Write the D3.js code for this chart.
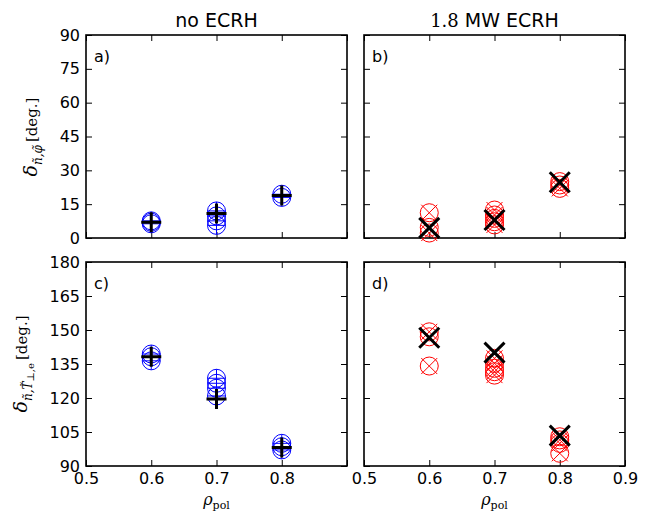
<!DOCTYPE html>
<html>
<head>
<meta charset="utf-8">
<script src="https://cdn.jsdelivr.net/npm/d3@7"></script>
<style>
  html, body { margin: 0; padding: 0; background: #fff; }
  svg { display: block; }
  .tick text { font-family: "DejaVu Sans", sans-serif; font-size: 16px; fill: #000; }
  .tick line { stroke: #000; stroke-width: 1; }
</style>
</head>
<body>
<svg id="fig" width="657" height="516"></svg>
<script>
// Radial positions and cross-phase angles (degrees)
const xTicks = [0.5, 0.6, 0.7, 0.8, 0.9];
const phiTicks = [0, 15, 30, 45, 60, 75, 90];
const tempTicks = [90, 105, 120, 135, 150, 165, 180];
const rhoMeans = [0.6, 0.7, 0.8];

// a) density / potential phase, no ECRH
const noEcrhPhiRho = [0.6, 0.6, 0.6, 0.7, 0.7, 0.7, 0.7, 0.8, 0.8];
const noEcrhPhiDeg = [6.3, 7.0, 7.6, 12.0, 9.8, 7.6, 5.6, 19.4, 18.0];
const noEcrhPhiMean = [7.0, 10.9, 18.8];

// b) density / potential phase, 1.8 MW ECRH
const ecrhPhiRho = [0.6, 0.6, 0.6, 0.7, 0.7, 0.7, 0.7, 0.7, 0.8, 0.8, 0.8];
const ecrhPhiDeg = [11.2, 4.7, 2.2, 12.4, 10.2, 8.7, 7.2, 5.8, 25.0, 23.5, 22.0];
const ecrhPhiMean = [4.5, 8.0, 24.7];

// c) density / temperature phase, no ECRH
const noEcrhTRho = [0.6, 0.6, 0.6, 0.7, 0.7, 0.7, 0.7, 0.8, 0.8, 0.8];
const noEcrhTDeg = [139.4, 138.2, 136.4, 128.7, 126.5, 124.3, 120.9, 100.0, 98.5, 97.1];
const noEcrhTMean = [138.2, 119.6, 98.2];

// d) density / temperature phase, 1.8 MW ECRH
const ecrhTRho = [0.6, 0.6, 0.6, 0.7, 0.7, 0.7, 0.7, 0.7, 0.8, 0.8, 0.8, 0.8];
const ecrhTDeg = [149.2, 147.0, 134.1, 137.5, 135.3, 133.1, 131.6, 130.1, 102.9, 101.5, 100.0, 95.6];
const ecrhTMean = [146.6, 140.0, 103.4];

const svg = d3.select("#fig");

const W = 261, H = 203;
const colX = [86, 364];
const rowY = [35, 262];

const x = d3.scaleLinear().domain([0.5, 0.9]).range([0, W]);
const yPhi = d3.scaleLinear().domain([0, 90]).range([H, 0]);
const yTemp = d3.scaleLinear().domain([90, 180]).range([H + 1, 0]);

const fmtX = d3.format(".1f");

function panel(col, row, y, yTickVals, opts) {
  const g = svg.append("g").attr("transform", `translate(${colX[col]},${rowY[row]})`);
  const h = y.range()[0];

  // inward ticks on all four sides
  const bottom = d3.axisBottom(x).tickValues(xTicks).tickSizeInner(-6).tickSizeOuter(0).tickPadding(7)
    .tickFormat(d => (opts.xLabels && opts.xLabels.includes(d)) ? fmtX(d) : "");
  const top = d3.axisTop(x).tickValues(xTicks).tickSizeInner(-6).tickSizeOuter(0).tickFormat("");
  const left = d3.axisLeft(y).tickValues(yTickVals).tickSizeInner(-6).tickSizeOuter(0).tickPadding(6)
    .tickFormat(d => opts.yLabels ? d : "");
  const right = d3.axisRight(y).tickValues(yTickVals).tickSizeInner(-6).tickSizeOuter(0).tickFormat("");

  [g.append("g").attr("transform", `translate(0,${h})`).call(bottom),
   g.append("g").call(top),
   g.append("g").call(left),
   g.append("g").attr("transform", `translate(${W},0)`).call(right)]
    .forEach(a => a.select(".domain").remove());

  g.append("rect").attr("x", 0).attr("y", 0).attr("width", W).attr("height", h)
    .attr("fill", "none").attr("stroke", "#000").attr("stroke-width", 1.6);

  g.append("text").attr("x", 8).attr("y", 27)
    .attr("font-family", "DejaVu Sans, sans-serif").attr("font-size", 16)
    .text(opts.tag);

  return g;
}

// circle with a cross through it: '+' for blue, 'x' for red
function ringMarks(g, y, rhos, vals, color, kind) {
  const r = 9;
  const pts = rhos.map((p, i) => [x(p), y(vals[i])]);
  const m = g.append("g").attr("fill", "none").attr("stroke", color).attr("stroke-width", 1);
  pts.forEach(([cx, cy]) => {
    m.append("circle").attr("cx", cx).attr("cy", cy).attr("r", r);
    const a = kind === "plus" ? r : 8;
    const path = kind === "plus"
      ? `M${cx - a},${cy}H${cx + a}M${cx},${cy - a}V${cy + a}`
      : `M${cx - a},${cy - a}L${cx + a},${cy + a}M${cx - a},${cy + a}L${cx + a},${cy - a}`;
    m.append("path").attr("d", path);
  });
}

function meanMarks(g, y, vals, kind) {
  const a = 10;
  const m = g.append("g").attr("stroke", "#000").attr("stroke-width", 3).attr("fill", "none");
  rhoMeans.forEach((p, i) => {
    const cx = x(p), cy = y(vals[i]);
    const path = kind === "plus"
      ? `M${cx - a},${cy}H${cx + a}M${cx},${cy - a}V${cy + a}`
      : `M${cx - a},${cy - a}L${cx + a},${cy + a}M${cx - a},${cy + a}L${cx + a},${cy - a}`;
    m.append("path").attr("d", path);
  });
}

const ga = panel(0, 0, yPhi, phiTicks, { tag: "a)", yLabels: true });
ringMarks(ga, yPhi, noEcrhPhiRho, noEcrhPhiDeg, "#0000ff", "plus");
meanMarks(ga, yPhi, noEcrhPhiMean, "plus");

const gb = panel(1, 0, yPhi, phiTicks, { tag: "b)", yLabels: false });
ringMarks(gb, yPhi, ecrhPhiRho, ecrhPhiDeg, "#ff0000", "cross");
meanMarks(gb, yPhi, ecrhPhiMean, "cross");

const gc = panel(0, 1, yTemp, tempTicks, { tag: "c)", yLabels: true, xLabels: [0.5, 0.6, 0.7, 0.8] });
ringMarks(gc, yTemp, noEcrhTRho, noEcrhTDeg, "#0000ff", "plus");
meanMarks(gc, yTemp, noEcrhTMean, "plus");

const gd = panel(1, 1, yTemp, tempTicks, { tag: "d)", yLabels: false, xLabels: [0.5, 0.6, 0.7, 0.8, 0.9] });
ringMarks(gd, yTemp, ecrhTRho, ecrhTDeg, "#ff0000", "cross");
meanMarks(gd, yTemp, ecrhTMean, "cross");

// column titles
svg.append("text").attr("x", colX[0] + W / 2).attr("y", 27).attr("text-anchor", "middle")
  .attr("font-family", "DejaVu Sans, sans-serif").attr("font-size", 19).text("no ECRH");
const t2 = svg.append("text").attr("x", colX[1] + W / 2).attr("y", 27).attr("text-anchor", "middle")
  .attr("font-size", 19);
t2.append("tspan").attr("font-family", "DejaVu Serif, serif").attr("font-size", 18).text("1.8");
t2.append("tspan").attr("font-family", "DejaVu Sans, sans-serif").text(" MW ECRH");

// x-axis labels
[0, 1].forEach(c => {
  const t = svg.append("text").attr("x", colX[c] + W / 2).attr("y", 505).attr("text-anchor", "middle")
    .attr("font-family", "DejaVu Serif, serif").attr("font-size", 16);
  t.append("tspan").attr("font-style", "italic").text("ρ");
  t.append("tspan").attr("font-size", 11).attr("dy", 4).text("pol");
});

// y-axis labels
function yLabel(cx, cy, sub) {
  const t = svg.append("text").attr("transform", `translate(${cx},${cy}) rotate(-90)`)
    .attr("text-anchor", "middle").attr("font-family", "DejaVu Serif, serif").attr("font-size", 15);
  t.append("tspan").attr("font-style", "italic").attr("font-size", 19).text("δ");
  let shift = 0;
  sub.forEach(s => {
    shift += s.dy;
    t.append("tspan").attr("font-size", s.size).attr("dy", s.dy).attr("font-style", s.it ? "italic" : "normal").text(s.t);
  });
  t.append("tspan").attr("dy", -shift).text("\u2009[deg.]");
}
yLabel(37, 137, [{ t: "n\u0303,\u03c6\u0303", dy: 5, size: 12, it: true }]);
yLabel(27, 364, [{ t: "n\u0303,T\u0303", dy: 5, size: 12, it: true }, { t: "\u22a5,e", dy: 2, size: 10, it: false }]);
</script>
</body>
</html>
